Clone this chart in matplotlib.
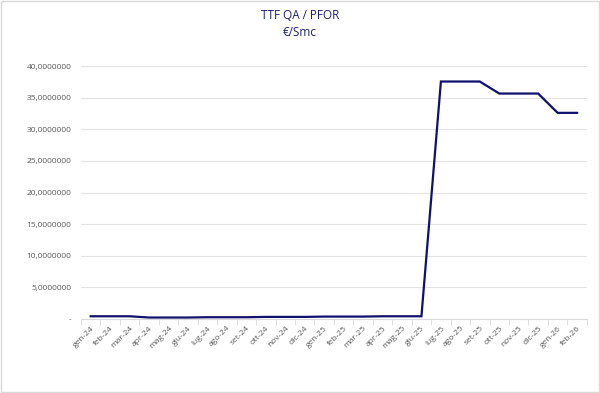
import matplotlib.pyplot as plt
import matplotlib.ticker as mticker
from matplotlib.patches import Rectangle

# data
months = ['gen-24', 'feb-24', 'mar-24', 'apr-24', 'mag-24', 'giu-24', 'lug-24', 'ago-24',
          'set-24', 'ott-24', 'nov-24', 'dic-24', 'gen-25', 'feb-25', 'mar-25', 'apr-25',
          'mag-25', 'giu-25', 'lug-25', 'ago-25', 'set-25', 'ott-25', 'nov-25', 'dic-25',
          'gen-26', 'feb-26']
values = [0.45, 0.45, 0.45, 0.25, 0.25, 0.25, 0.3, 0.3, 0.3, 0.35, 0.35, 0.35, 0.4,
          0.4, 0.4, 0.45, 0.45, 0.45, 37.55, 37.55, 37.55, 35.65, 35.65, 35.65, 32.6, 32.6]
yticks = [0, 5, 10, 15, 20, 25, 30, 35, 40]

plt.rcParams['font.family'] = ['Open Sans', 'DejaVu Sans']

fig = plt.figure(figsize=(6, 3.93), dpi=100)
ax = fig.add_axes([0.135, 0.188, 0.843, 0.644])

x = list(range(len(months)))
ax.plot(x, values, color='#10106E', linewidth=1.6, solid_joinstyle='miter')

ax.set_xlim(-0.5, len(months) - 0.5)
ax.set_ylim(0, 40)
ax.set_yticks(yticks)
ax.yaxis.set_major_formatter(mticker.FuncFormatter(
    lambda v, p: '-' if v == 0 else f'{v:.7f}'.replace('.', ',')))
ax.set_xticks(x)
ax.set_xticklabels(months, rotation=45, ha='right', rotation_mode='anchor')
ax.set_xticks([i - 0.5 for i in range(len(months) + 1)], minor=True)

ax.grid(axis='y', color='#E3E3E3', linewidth=0.8)
ax.set_axisbelow(True)
for s in ['top', 'right', 'left']:
    ax.spines[s].set_visible(False)
ax.spines['bottom'].set_color('#D9D9D9')
ax.tick_params(axis='y', length=0, labelsize=6, labelcolor='#595959', pad=7)
ax.tick_params(axis='x', which='major', length=0, labelsize=6, labelcolor='#595959', pad=4)
ax.tick_params(axis='x', which='minor', length=4, color='#D9D9D9')

fig.text(0.5, 0.978, 'TTF QA / PFOR\n€/Smc', ha='center', va='top', fontsize=8.5,
         color='#1F1F6E', linespacing=1.4)

fig.patches.append(Rectangle((0.002, 0.003), 0.996, 0.994, transform=fig.transFigure,
                             fill=False, edgecolor='#D9D9D9', linewidth=1))

fig.savefig('out.png', dpi=100)
